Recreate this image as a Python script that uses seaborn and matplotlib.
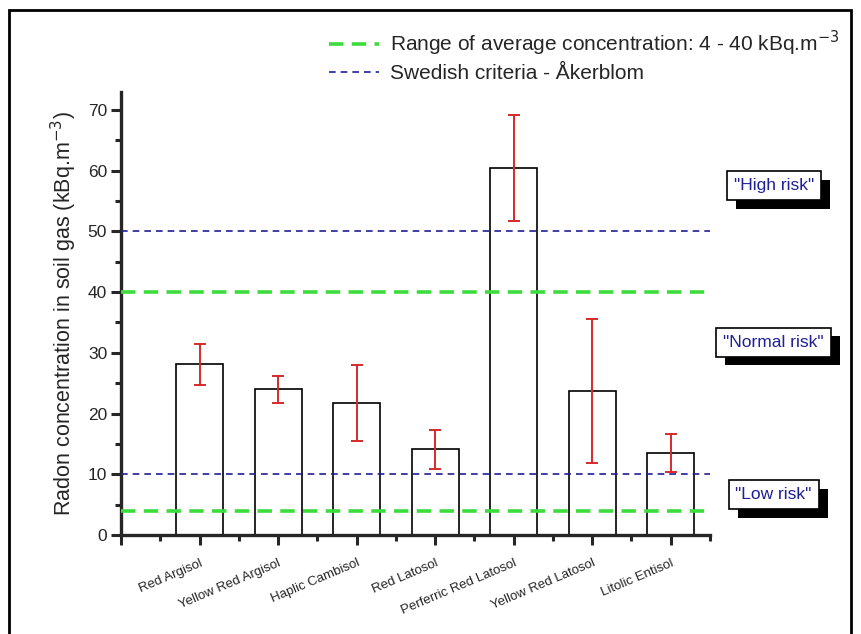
import matplotlib
matplotlib.use('Agg')
import matplotlib.pyplot as plt
import matplotlib.patheffects as pe
from matplotlib.ticker import MultipleLocator
from matplotlib.lines import Line2D
from matplotlib.patches import Rectangle
import seaborn as sns
import pandas as pd

# Data
soils = ['Red Argisol', 'Yellow Red Argisol', 'Haplic Cambisol', 'Red Latosol',
         'Perferric Red Latosol', 'Yellow Red Latosol', 'Litolic Entisol']
radon = [28.1, 24.0, 21.7, 14.1, 60.5, 23.7, 13.5]
radon_err = [3.4, 2.2, 6.3, 3.2, 8.7, 11.9, 3.1]

avg_range = [4, 40]        # green lines
swedish_levels = [10, 50]  # blue lines
risk_labels = ['"High risk"', '"Normal risk"', '"Low risk"']
risk_y = [57.5, 31.7, 6.6]

sns.set_style('ticks')
plt.rcParams['font.family'] = ['Liberation Sans', 'DejaVu Sans']

df = pd.DataFrame({'soil': soils, 'radon': radon})

fig = plt.figure(figsize=(8.62, 6.34), dpi=100)
ax = fig.add_axes([0.1404, 0.1562, 0.6833, 0.699])

sns.barplot(data=df, x='soil', y='radon', order=soils, width=0.6,
            color='white', edgecolor='black', linewidth=1.2, ax=ax, errorbar=None)
ax.errorbar(range(len(soils)), radon, yerr=radon_err, fmt='none',
            ecolor='#d42a2a', elinewidth=1.4, capsize=4.5, capthick=1.4, zorder=5)

green = '#3ddc3d'
blue = '#1f1f96'
green_ls = (0, (4, 2.3))
blue_ls = (0, (4, 3))
for v in avg_range:
    ax.axhline(v, color=green, lw=2.6, ls=green_ls, xmax=0.993, zorder=4)
for v in swedish_levels:
    ax.axhline(v, color=blue, lw=1.2, ls=blue_ls, zorder=4)

ax.set_xlim(-1, 6.5)
ax.set_ylim(0, 73)
ax.set_xticks(range(-1, len(soils)))
ax.set_xticklabels([''] + soils, rotation=23, ha='right', rotation_mode='anchor',
                   fontsize=9.5)
ax.xaxis.set_minor_locator(MultipleLocator(0.5))
ax.yaxis.set_major_locator(MultipleLocator(10))
ax.yaxis.set_minor_locator(MultipleLocator(5))
ax.tick_params(axis='both', which='major', length=7, width=2.2, direction='out')
ax.tick_params(axis='both', which='minor', length=4, width=2.2, direction='out')
ax.tick_params(axis='y', labelsize=12.5, pad=3)
ax.tick_params(axis='x', pad=9)
for s in ['top', 'right']:
    ax.spines[s].set_visible(False)
for s in ['left', 'bottom']:
    ax.spines[s].set_linewidth(2.4)

ax.set_xlabel('')
ax.set_ylabel('Radon concentration in soil gas (kBq.m$^{-3}$)', fontsize=15.5, labelpad=6)

# risk annotations with drop shadow
for lab, yv in zip(risk_labels, risk_y):
    t = ax.text(7.31, yv, lab, ha='center', va='center', fontsize=12.5, color=blue,
                clip_on=False,
                bbox=dict(boxstyle='square,pad=0.4', fc='white', ec='black', lw=1.2))
    t.get_bbox_patch().set_path_effects([
        pe.SimplePatchShadow(offset=(6.5, -6), shadow_rgbFace='black', alpha=1.0),
        pe.Normal()])

handles = [Line2D([], [], color=green, lw=2.6, ls=green_ls),
           Line2D([], [], color=blue, lw=1.2, ls=blue_ls)]
fig.legend(handles, ['Range of average concentration: 4 - 40 kBq.m$^{-3}$',
                     'Swedish criteria - \u00c5kerblom'],
           loc='upper left', bbox_to_anchor=(0.372, 0.968), frameon=False,
           fontsize=15, handlelength=2.4, handletextpad=0.55, labelspacing=0.3,
           borderaxespad=0)

fig.patches.append(Rectangle((0.011, -0.02), 0.976, 1.004, transform=fig.transFigure,
                             fill=False, ec='black', lw=2))

fig.savefig('out.png', dpi=100)
